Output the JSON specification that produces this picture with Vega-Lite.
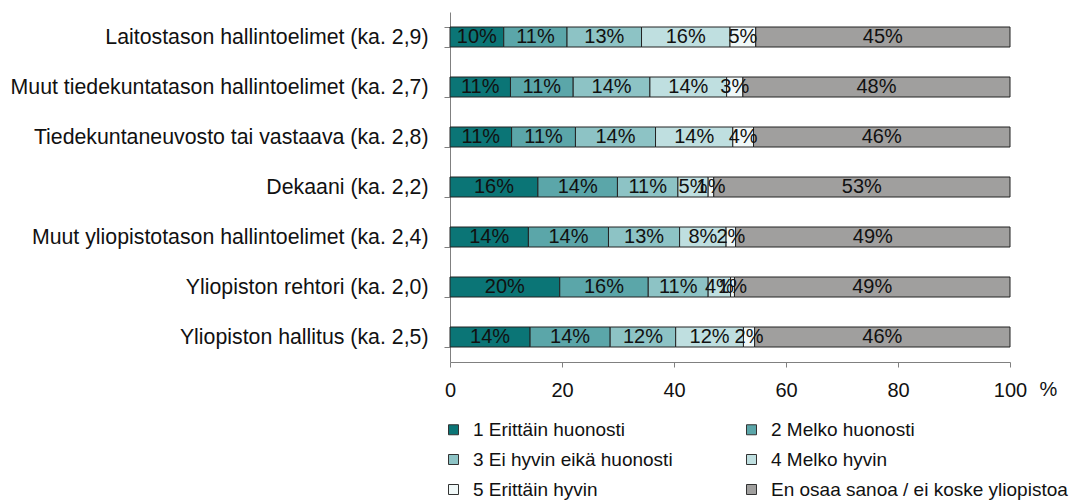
{
  "$schema": "https://vega.github.io/schema/vega-lite/v6.json",
  "autosize": "none",
  "width": 560,
  "height": 350,
  "padding": {"left": 450, "top": 12, "right": 61, "bottom": 142},
  "background": "white",
  "config": {
    "font": "Liberation Sans",
    "view": {"stroke": null},
    "axis": {"labelFont": "Liberation Sans", "titleFont": "Liberation Sans", "labelColor": "#111", "titleColor": "#111"},
    "legend": {"labelFont": "Liberation Sans"}
  },
  "data": {
    "values": [
      {"org": "Laitostason hallintoelimet (ka. 2,9)", "k": 1, "cat": "1 Erittäin huonosti", "v": 0.096},
      {"org": "Laitostason hallintoelimet (ka. 2,9)", "k": 2, "cat": "2 Melko huonosti", "v": 0.113},
      {"org": "Laitostason hallintoelimet (ka. 2,9)", "k": 3, "cat": "3 Ei hyvin eikä huonosti", "v": 0.133},
      {"org": "Laitostason hallintoelimet (ka. 2,9)", "k": 4, "cat": "4 Melko hyvin", "v": 0.158},
      {"org": "Laitostason hallintoelimet (ka. 2,9)", "k": 5, "cat": "5 Erittäin hyvin", "v": 0.046},
      {"org": "Laitostason hallintoelimet (ka. 2,9)", "k": 6, "cat": "En osaa sanoa / ei koske yliopistoa", "v": 0.454},

      {"org": "Muut tiedekuntatason hallintoelimet (ka. 2,7)", "k": 1, "cat": "1 Erittäin huonosti", "v": 0.108},
      {"org": "Muut tiedekuntatason hallintoelimet (ka. 2,7)", "k": 2, "cat": "2 Melko huonosti", "v": 0.112},
      {"org": "Muut tiedekuntatason hallintoelimet (ka. 2,7)", "k": 3, "cat": "3 Ei hyvin eikä huonosti", "v": 0.137},
      {"org": "Muut tiedekuntatason hallintoelimet (ka. 2,7)", "k": 4, "cat": "4 Melko hyvin", "v": 0.137},
      {"org": "Muut tiedekuntatason hallintoelimet (ka. 2,7)", "k": 5, "cat": "5 Erittäin hyvin", "v": 0.029},
      {"org": "Muut tiedekuntatason hallintoelimet (ka. 2,7)", "k": 6, "cat": "En osaa sanoa / ei koske yliopistoa", "v": 0.477},

      {"org": "Tiedekuntaneuvosto tai vastaava (ka. 2,8)", "k": 1, "cat": "1 Erittäin huonosti", "v": 0.110},
      {"org": "Tiedekuntaneuvosto tai vastaava (ka. 2,8)", "k": 2, "cat": "2 Melko huonosti", "v": 0.114},
      {"org": "Tiedekuntaneuvosto tai vastaava (ka. 2,8)", "k": 3, "cat": "3 Ei hyvin eikä huonosti", "v": 0.143},
      {"org": "Tiedekuntaneuvosto tai vastaava (ka. 2,8)", "k": 4, "cat": "4 Melko hyvin", "v": 0.138},
      {"org": "Tiedekuntaneuvosto tai vastaava (ka. 2,8)", "k": 5, "cat": "5 Erittäin hyvin", "v": 0.037},
      {"org": "Tiedekuntaneuvosto tai vastaava (ka. 2,8)", "k": 6, "cat": "En osaa sanoa / ei koske yliopistoa", "v": 0.458},

      {"org": "Dekaani (ka. 2,2)", "k": 1, "cat": "1 Erittäin huonosti", "v": 0.157},
      {"org": "Dekaani (ka. 2,2)", "k": 2, "cat": "2 Melko huonosti", "v": 0.142},
      {"org": "Dekaani (ka. 2,2)", "k": 3, "cat": "3 Ei hyvin eikä huonosti", "v": 0.108},
      {"org": "Dekaani (ka. 2,2)", "k": 4, "cat": "4 Melko hyvin", "v": 0.054},
      {"org": "Dekaani (ka. 2,2)", "k": 5, "cat": "5 Erittäin hyvin", "v": 0.010},
      {"org": "Dekaani (ka. 2,2)", "k": 6, "cat": "En osaa sanoa / ei koske yliopistoa", "v": 0.529},

      {"org": "Muut yliopistotason hallintoelimet (ka. 2,4)", "k": 1, "cat": "1 Erittäin huonosti", "v": 0.140},
      {"org": "Muut yliopistotason hallintoelimet (ka. 2,4)", "k": 2, "cat": "2 Melko huonosti", "v": 0.143},
      {"org": "Muut yliopistotason hallintoelimet (ka. 2,4)", "k": 3, "cat": "3 Ei hyvin eikä huonosti", "v": 0.127},
      {"org": "Muut yliopistotason hallintoelimet (ka. 2,4)", "k": 4, "cat": "4 Melko hyvin", "v": 0.083},
      {"org": "Muut yliopistotason hallintoelimet (ka. 2,4)", "k": 5, "cat": "5 Erittäin hyvin", "v": 0.017},
      {"org": "Muut yliopistotason hallintoelimet (ka. 2,4)", "k": 6, "cat": "En osaa sanoa / ei koske yliopistoa", "v": 0.490},

      {"org": "Yliopiston rehtori (ka. 2,0)", "k": 1, "cat": "1 Erittäin huonosti", "v": 0.196},
      {"org": "Yliopiston rehtori (ka. 2,0)", "k": 2, "cat": "2 Melko huonosti", "v": 0.158},
      {"org": "Yliopiston rehtori (ka. 2,0)", "k": 3, "cat": "3 Ei hyvin eikä huonosti", "v": 0.107},
      {"org": "Yliopiston rehtori (ka. 2,0)", "k": 4, "cat": "4 Melko hyvin", "v": 0.040},
      {"org": "Yliopiston rehtori (ka. 2,0)", "k": 5, "cat": "5 Erittäin hyvin", "v": 0.007},
      {"org": "Yliopiston rehtori (ka. 2,0)", "k": 6, "cat": "En osaa sanoa / ei koske yliopistoa", "v": 0.492},

      {"org": "Yliopiston hallitus (ka. 2,5)", "k": 1, "cat": "1 Erittäin huonosti", "v": 0.143},
      {"org": "Yliopiston hallitus (ka. 2,5)", "k": 2, "cat": "2 Melko huonosti", "v": 0.143},
      {"org": "Yliopiston hallitus (ka. 2,5)", "k": 3, "cat": "3 Ei hyvin eikä huonosti", "v": 0.117},
      {"org": "Yliopiston hallitus (ka. 2,5)", "k": 4, "cat": "4 Melko hyvin", "v": 0.121},
      {"org": "Yliopiston hallitus (ka. 2,5)", "k": 5, "cat": "5 Erittäin hyvin", "v": 0.020},
      {"org": "Yliopiston hallitus (ka. 2,5)", "k": 6, "cat": "En osaa sanoa / ei koske yliopistoa", "v": 0.456}
    ]
  },
  "transform": [
    {"stack": "v", "groupby": ["org"], "sort": [{"field": "k", "order": "ascending"}], "as": ["x0", "x1"]}
  ],
  "encoding": {
    "y": {
      "field": "org",
      "type": "nominal",
      "sort": null,
      "scale": {"paddingInner": 0.6, "paddingOuter": 0.3},
      "axis": {
        "title": null,
        "tickBand": "extent",
        "tickSize": 6,
        "tickColor": "#808080",
        "domainColor": "#808080",
        "labelFontSize": 21.3,
        "labelPadding": 16,
        "labelLimit": 600
      }
    }
  },
  "layer": [
    {
      "mark": {"type": "bar", "stroke": "#222222", "strokeWidth": 1},
      "encoding": {
        "x": {
          "field": "x0",
          "type": "quantitative",
          "scale": {"domain": [0, 1], "nice": false},
          "axis": {
            "values": [0, 0.2, 0.4, 0.6, 0.8, 1],
            "labelExpr": "round(datum.value * 100)",
            "labelFlush": false,
            "grid": false,
            "tickSize": 5,
            "tickColor": "#808080",
            "domainColor": "#808080",
            "labelFontSize": 20,
            "labelPadding": 13,
            "title": "%",
            "titleFontSize": 20,
            "titleFontWeight": "normal",
            "titleX": 598,
            "titleY": 27,
            "titleAlign": "center",
            "titleBaseline": "middle"
          }
        },
        "x2": {"field": "x1"},
        "color": {
          "field": "cat",
          "type": "nominal",
          "scale": {
            "domain": ["1 Erittäin huonosti", "2 Melko huonosti", "3 Ei hyvin eikä huonosti", "4 Melko hyvin", "5 Erittäin hyvin", "En osaa sanoa / ei koske yliopistoa"],
            "range": ["#0b7576", "#5ba6a9", "#8dc3c5", "#bfdfe0", "#f0f8f8", "#a09f9e"]
          },
          "legend": {
            "title": null,
            "orient": "none",
            "direction": "horizontal",
            "legendX": -6,
            "legendY": 408,
            "columns": 2,
            "columnPadding": 69,
            "rowPadding": 10,
            "symbolType": "square",
            "symbolSize": 100,
            "symbolStrokeColor": "#333333",
            "symbolStrokeWidth": 1,
            "labelFontSize": 19,
            "labelOffset": 10,
            "labelColor": "#111",
            "labelLimit": 500
          }
        }
      }
    },
    {
      "transform": [
        {"fold": ["x0", "x1"], "as": ["edge", "pos"]},
        {"aggregate": [{"op": "mean", "field": "pos", "as": "mid"}], "groupby": ["org", "cat", "v"]}
      ],
      "mark": {"type": "text", "fontSize": 20, "color": "#111111", "baseline": "middle", "align": "center"},
      "encoding": {
        "x": {"field": "mid", "type": "quantitative"},
        "text": {"field": "v", "type": "quantitative", "format": ".0%"}
      }
    }
  ]
}
